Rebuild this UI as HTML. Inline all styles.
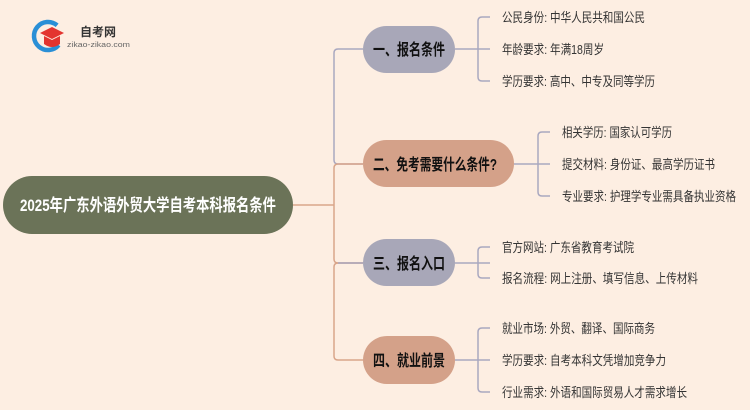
<!DOCTYPE html>
<html><head><meta charset="utf-8"><style>
body{margin:0;width:750px;height:410px;background:#fdeee2;overflow:hidden;font-family:"Liberation Sans","Noto Sans CJK SC",sans-serif;}
svg{position:absolute;left:0;top:0}
</style></head><body>
<svg width="750" height="410" viewBox="0 0 750 410" font-family="Liberation Sans, Noto Sans CJK SC, sans-serif">
<!-- logo -->
<circle cx="48" cy="36" r="14" fill="none" stroke="#2a8fd6" stroke-width="4.5" stroke-dasharray="66 30" transform="rotate(40 48 36)"/>
<polygon points="40,33 52,27 64,33 52,39" fill="#e3342f"/>
<path d="M44 36 L44 44 Q52 50 60 44 L60 36 L52 40 Z" fill="#e3342f"/>
<text x="80" y="36" font-size="12" font-weight="bold" fill="#333" textLength="36" lengthAdjust="spacingAndGlyphs">自考网</text>
<text x="67" y="47" font-size="7" fill="#666" textLength="63" lengthAdjust="spacingAndGlyphs">zikao-zikao.com</text>
<!-- root -->
<rect x="3" y="176" width="290" height="58" rx="29" fill="#6b7358"/>
<text x="20" y="211" font-size="17" font-weight="bold" fill="#fff" textLength="256" lengthAdjust="spacingAndGlyphs">2025年广东外语外贸大学自考本科报名条件</text>
<!-- trunk -->
<path d="M293 205 H334" stroke="#d9a58a" stroke-width="1.5" fill="none"/>
<path d="M363 49 H338 Q334 49 334 53 V160 Q334 164 338 164 H363" stroke="#a9a8c0" stroke-width="1.5" fill="none"/>
<path d="M363 164 H338 Q334 164 334 168 V259 Q334 263 338 263 H363" stroke="#d9a58a" stroke-width="1.5" fill="none"/>
<path d="M363 263 H338 Q334 263 334 267 V356 Q334 360 338 360 H363" stroke="#d9a58a" stroke-width="1.5" fill="none"/>
<path d="M338 263 H363" stroke="#a9a8c0" stroke-width="1.5"/>
<!-- nodes -->
<rect x="363" y="26" width="92" height="47" rx="23.5" fill="#a8a7b8"/>
<text x="373" y="55" font-size="16" font-weight="bold" fill="#111" textLength="72" lengthAdjust="spacingAndGlyphs">一、报名条件</text>
<rect x="363" y="140" width="151" height="47" rx="23.5" fill="#d4a189"/>
<text x="373" y="170" font-size="16" font-weight="bold" fill="#111" textLength="124" lengthAdjust="spacingAndGlyphs">二、免考需要什么条件?</text>
<rect x="363" y="239" width="92" height="47" rx="23.5" fill="#a8a7b8"/>
<text x="373" y="269" font-size="16" font-weight="bold" fill="#111" textLength="72" lengthAdjust="spacingAndGlyphs">三、报名入口</text>
<rect x="363" y="336" width="92" height="48" rx="24" fill="#d4a189"/>
<text x="373" y="366" font-size="16" font-weight="bold" fill="#111" textLength="72" lengthAdjust="spacingAndGlyphs">四、就业前景</text>
<!-- leaf brackets -->
<g stroke="#a9a8c0" stroke-width="1.5" fill="none">
<path d="M455 49 H490 M490 17 H482 Q478 17 478 21 V77 Q478 81 482 81 H490"/>
<path d="M514 164 H550 M550 132 H542 Q538 132 538 136 V192 Q538 196 542 196 H550"/>
<path d="M455 263 H490 M490 247 H482 Q478 247 478 251 V274 Q478 278 482 278 H490"/>
<path d="M455 360 H490 M490 328 H482 Q478 328 478 332 V388 Q478 392 482 392 H490"/>
</g>
<g font-size="13" fill="#333" lengthAdjust="spacingAndGlyphs">
<text x="502" y="22" textLength="143" lengthAdjust="spacingAndGlyphs">公民身份: 中华人民共和国公民</text>
<text x="502" y="54" textLength="102" lengthAdjust="spacingAndGlyphs">年龄要求: 年满18周岁</text>
<text x="502" y="86" textLength="153" lengthAdjust="spacingAndGlyphs">学历要求: 高中、中专及同等学历</text>
<text x="562" y="137" textLength="110" lengthAdjust="spacingAndGlyphs">相关学历: 国家认可学历</text>
<text x="562" y="169" textLength="153" lengthAdjust="spacingAndGlyphs">提交材料: 身份证、最高学历证书</text>
<text x="562" y="201" textLength="174" lengthAdjust="spacingAndGlyphs">专业要求: 护理学专业需具备执业资格</text>
<text x="502" y="252" textLength="132" lengthAdjust="spacingAndGlyphs">官方网站: 广东省教育考试院</text>
<text x="502" y="283" textLength="196" lengthAdjust="spacingAndGlyphs">报名流程: 网上注册、填写信息、上传材料</text>
<text x="502" y="333" textLength="153" lengthAdjust="spacingAndGlyphs">就业市场: 外贸、翻译、国际商务</text>
<text x="502" y="365" textLength="164" lengthAdjust="spacingAndGlyphs">学历要求: 自考本科文凭增加竞争力</text>
<text x="502" y="397" textLength="185" lengthAdjust="spacingAndGlyphs">行业需求: 外语和国际贸易人才需求增长</text>
</g>
</svg>
</body></html>
